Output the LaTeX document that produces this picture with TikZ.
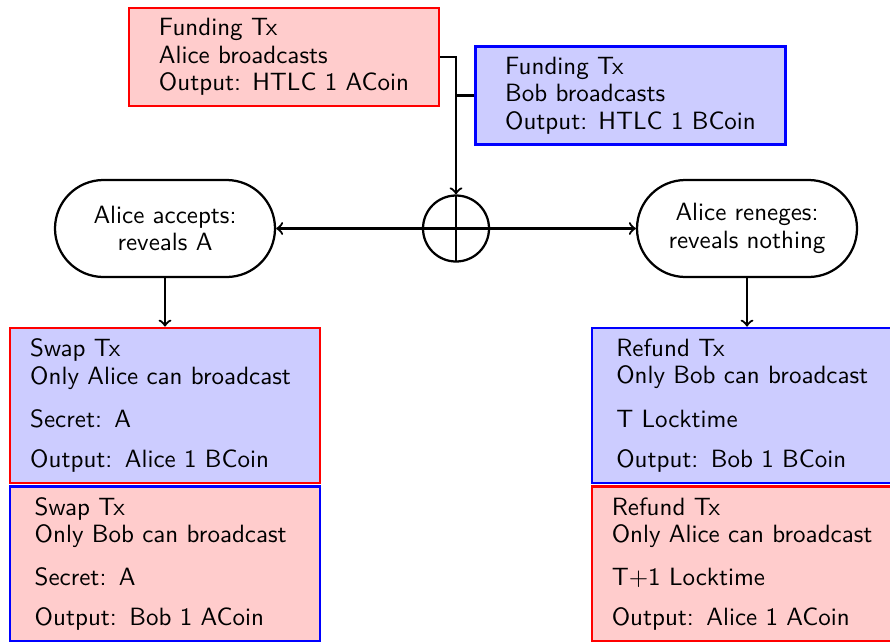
\documentclass[tikz,border=0pt]{standalone}
\usetikzlibrary{shapes.misc}
\begin{document}
\begin{tikzpicture}[x=0.4pt,y=-0.4pt,
  font={\sffamily\fontsize{10}{10.92}\selectfont},
  redbox/.style={rectangle, draw=red, fill=red!20, line width=1.1pt, minimum width=124pt, inner sep=0pt},
  bluebox/.style={rectangle, draw=blue, fill=blue!20, line width=1.1pt, minimum width=124pt, inner sep=0pt},
  topbox/.style={minimum height=39.2pt, align=left},
  lowbox/.style={minimum height=62pt, align=left, text width=#1},
  stadium/.style={rounded rectangle, draw, line width=0.9pt, minimum width=88pt, minimum height=38.8pt, align=center, inner sep=0pt},
  xorsign/.style={circle, draw, line width=0.9pt, minimum size=26.4pt, inner sep=0pt,
    path picture={\draw[line width=0.9pt] (path picture bounding box.north) -- (path picture bounding box.south)
                                (path picture bounding box.west) -- (path picture bounding box.east);}},
  conn/.style={line width=0.9pt}
]
\useasboundingbox (0,0) rectangle (890,641);
\clip (0,0) rectangle (890,641);

\node[redbox, topbox] (fa) at (284,57) {Funding Tx\\Alice broadcasts\\Output: HTLC 1 ACoin};
\node[bluebox, topbox] (fb) at (630.5,95.5) {Funding Tx\\Bob broadcasts\\Output: HTLC 1 BCoin};

\node[xorsign] (xor) at (456,228.5) {};

\node[stadium] (sa) at (165,228.5) {Alice accepts:\\reveals A};
\node[stadium] (sb) at (747,228.5) {Alice reneges:\\reveals nothing};

\node[bluebox, draw=red, lowbox=107.8pt] (swapa) at (165,405.5)
  {Swap Tx\\Only Alice can broadcast\\[6.4pt]Secret: A\\[5.1pt]Output: Alice 1 BCoin};
\node[redbox, draw=blue, lowbox=104.2pt] (swapb) at (165,564)
  {Swap Tx\\Only Bob can broadcast\\[6.4pt]Secret: A\\[5.1pt]Output: Bob 1 ACoin};
\node[bluebox, lowbox=104.6pt] (refb) at (747,405.5)
  {Refund Tx\\Only Bob can broadcast\\[6.4pt]T Locktime\\[5.1pt]Output: Bob 1 BCoin};
\node[redbox, lowbox=108.2pt] (refa) at (747,564)
  {Refund Tx\\Only Alice can broadcast\\[6.4pt]T+1 Locktime\\[5.1pt]Output: Alice 1 ACoin};

\draw[conn,->] (fa.east) -| (xor.north);
\draw[conn] (fb.west) -- (fb.west -| xor.north);
\draw[conn,->] (xor.west) -- (sa.east);
\draw[conn,->] (xor.east) -- (sb.west);
\draw[conn,->] (sa.south) -- (swapa.north);
\draw[conn,->] (sb.south) -- (refb.north);
\end{tikzpicture}
\end{document}
